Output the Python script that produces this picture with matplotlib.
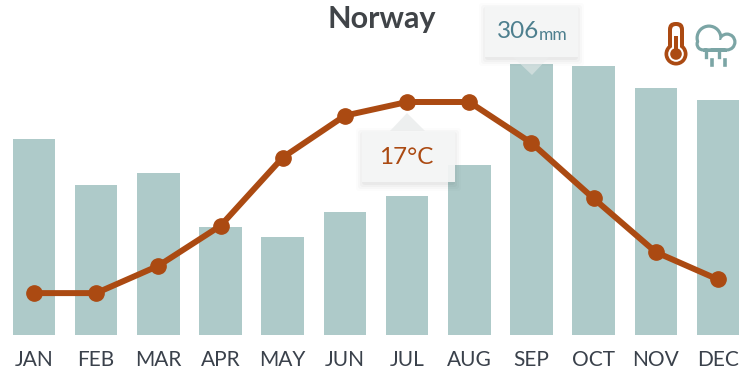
import matplotlib
matplotlib.use("Agg")
import matplotlib.pyplot as plt
from matplotlib.patches import Circle, Polygon, Rectangle, FancyBboxPatch

plt.rcParams['font.family'] = ['Lato', 'DejaVu Sans']

months = ["JAN", "FEB", "MAR", "APR", "MAY", "JUN", "JUL", "AUG", "SEP", "OCT", "NOV", "DEC"]
rain_mm = [222, 170, 183, 122, 111, 139, 157, 192, 306, 304, 279, 265]
temp_c = [-4, -4, -1, 3.4, 10.9, 15.5, 17, 17, 12.5, 6.4, 0.5, -2.5]

BAR = "#aecac9"
RUST = "#ab4a12"
TEAL = "#7ba5a5"
GREY = "#3a414b"

fig = plt.figure(figsize=(7.5, 3.73), dpi=100)
ax = fig.add_axes([0, 38 / 373, 1, 335 / 373])
x = list(range(12))
ax.bar(x, rain_mm, width=0.685, color=BAR)
ax.set_xlim(-34 / 62.18, (750 - 34) / 62.18)
ax.set_ylim(0, 335 * 1.13)
ax.set_xticks(x)
ax.set_xticklabels(months, fontsize=15, color=GREY)
ax.tick_params(axis="x", length=0, pad=11)
ax.set_yticks([])
for s in ax.spines.values():
    s.set_visible(False)

ax2 = ax.twinx()
ax2.plot(x, temp_c, color=RUST, lw=4.3, marker="o", ms=11, solid_capstyle="round")
ax2.set_ylim(17 - 233 / 9.1, 17 + 102 / 9.1)
ax2.set_yticks([])
for s in ax2.spines.values():
    s.set_visible(False)

# overlay in pixels for tooltips and icons
ov = fig.add_axes([0, 0, 1, 1], facecolor="none")
ov.set_xlim(0, 750)
ov.set_ylim(373, 0)
ov.axis("off")


def tooltip(x0, y0, x1, y1, pointer, pointer_alpha):
    for grow, alpha in [(7, 0.012), (5, 0.02), (3, 0.025), (1, 0.03)]:
        ov.add_patch(FancyBboxPatch((x0 - grow + 1, y0 - grow + 4), x1 - x0 + 2 * grow - 2, y1 - y0 + 2 * grow - 2,
                                    boxstyle="round,pad=0,rounding_size=3", fc="#000000", ec="none", alpha=alpha))
    ov.add_patch(Polygon(pointer, fc="#eceeee", ec="none", alpha=pointer_alpha))
    ov.add_patch(Rectangle((x0, y0), x1 - x0, y1 - y0, fc="#f5f6f6", ec="none", alpha=0.93))


tooltip(485, 6, 578, 57, [(513, 57), (532, 75), (549, 57)], 0.5)
tooltip(362, 131, 455, 182, [(390, 131), (407, 113), (425, 131)], 0.9)

ov.text(382, 19, "Norway", fontsize=22, fontweight="bold", color="#404448", ha="center", va="center")
ov.text(497, 32, "306", fontsize=17.5, color="#4d7f8e", ha="left", va="center")
ov.text(539, 35, "mm", fontsize=12.5, color="#4d7f8e", ha="left", va="center")
ov.text(406, 157, "17°C", fontsize=17.5, color=RUST, ha="center", va="center")

# thermometer icon
ov.add_patch(FancyBboxPatch((668, 22), 16, 30, boxstyle="round,pad=0,rounding_size=7.5", fc=RUST, ec="none"))
ov.add_patch(Circle((676, 54), 11.5, fc=RUST, ec="none"))
ov.add_patch(FancyBboxPatch((672, 26), 8, 28, boxstyle="round,pad=0,rounding_size=3.9", fc="white", ec="none"))
ov.add_patch(Circle((676, 54), 7.8, fc="white", ec="none"))
ov.add_patch(Rectangle((674, 36), 4, 16, fc=RUST, ec="none"))
ov.add_patch(Circle((676, 54), 5.8, fc=RUST, ec="none"))

# rain cloud icon
blobs = [(709, 38, 13.5), (727, 42, 9.5), (703, 44, 7.5)]
for cx, cy, r in blobs:
    ov.add_patch(Circle((cx, cy), r, fc=TEAL, ec="none"))
ov.add_patch(Rectangle((703, 40), 24, 11.5, fc=TEAL, ec="none"))
for cx, cy, r in blobs:
    ov.add_patch(Circle((cx, cy), r - 3.2, fc="white", ec="none"))
ov.add_patch(Rectangle((703, 40), 24, 8.3, fc="white", ec="none"))
ov.plot([706, 706], [51, 57], color=TEAL, lw=2.4)
ov.plot([719, 719], [51, 57], color=TEAL, lw=2.4)
ov.plot([712, 712], [60, 65], color=TEAL, lw=2.6)
ov.plot([725, 725], [60, 65], color=TEAL, lw=2.6)
ov.set_xlim(0, 750)
ov.set_ylim(373, 0)

fig.savefig("out.png", dpi=100)
